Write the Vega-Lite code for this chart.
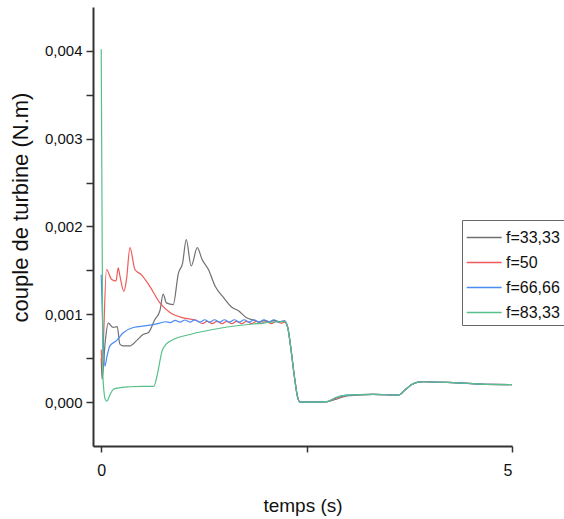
{
  "$schema": "https://vega.github.io/schema/vega-lite/v6.json",
  "autosize": "none",
  "width": 419,
  "height": 439,
  "padding": {"left": 93, "top": 7, "right": 52, "bottom": 73},
  "background": "white",
  "config": {"view": {"stroke": null}, "font": "Arial"},
  "data": {"values": [
    {"t":0,"v":0.0005,"s":"f=33,33"},{"t":0.01,"v":0.00026,"s":"f=33,33"},{"t":0.05,"v":0.0007,"s":"f=33,33"},{"t":0.085,"v":0.0009,"s":"f=33,33"},{"t":0.146,"v":0.00085,"s":"f=33,33"},{"t":0.195,"v":0.00086,"s":"f=33,33"},{"t":0.227,"v":0.00066,"s":"f=33,33"},{"t":0.268,"v":0.00064,"s":"f=33,33"},{"t":0.35,"v":0.00064,"s":"f=33,33"},{"t":0.43,"v":0.0007,"s":"f=33,33"},{"t":0.51,"v":0.00077,"s":"f=33,33"},{"t":0.572,"v":0.00079,"s":"f=33,33"},{"t":0.653,"v":0.00094,"s":"f=33,33"},{"t":0.714,"v":0.00104,"s":"f=33,33"},{"t":0.754,"v":0.00123,"s":"f=33,33"},{"t":0.794,"v":0.00113,"s":"f=33,33"},{"t":0.876,"v":0.00111,"s":"f=33,33"},{"t":0.94,"v":0.00147,"s":"f=33,33"},{"t":0.99,"v":0.00158,"s":"f=33,33"},{"t":1.035,"v":0.00185,"s":"f=33,33"},{"t":1.095,"v":0.00155,"s":"f=33,33"},{"t":1.17,"v":0.00176,"s":"f=33,33"},{"t":1.225,"v":0.00163,"s":"f=33,33"},{"t":1.305,"v":0.00151,"s":"f=33,33"},{"t":1.387,"v":0.00132,"s":"f=33,33"},{"t":1.49,"v":0.00119,"s":"f=33,33"},{"t":1.59,"v":0.00108,"s":"f=33,33"},{"t":1.67,"v":0.00104,"s":"f=33,33"},{"t":1.77,"v":0.00096,"s":"f=33,33"},{"t":1.87,"v":0.00093,"s":"f=33,33"},{"t":1.93,"v":0.00091,"s":"f=33,33"},{"t":1.99,"v":0.00093,"s":"f=33,33"},{"t":2.05,"v":0.000915,"s":"f=33,33"},{"t":2.11,"v":0.00093,"s":"f=33,33"},{"t":2.17,"v":0.000915,"s":"f=33,33"},{"t":2.23,"v":0.000925,"s":"f=33,33"},{"t":2.27,"v":0.00085,"s":"f=33,33"},{"t":2.31,"v":0.0006,"s":"f=33,33"},{"t":2.35,"v":0.0003,"s":"f=33,33"},{"t":2.39,"v":0.00006,"s":"f=33,33"},{"t":2.42,"v":0.0,"s":"f=33,33"},{"t":2.6,"v":0.0,"s":"f=33,33"},{"t":2.75,"v":0.000005,"s":"f=33,33"},{"t":2.85,"v":0.00003,"s":"f=33,33"},{"t":2.99,"v":0.00007,"s":"f=33,33"},{"t":3.31,"v":0.000088,"s":"f=33,33"},{"t":3.62,"v":0.00008,"s":"f=33,33"},{"t":3.7,"v":0.00014,"s":"f=33,33"},{"t":3.78,"v":0.0002,"s":"f=33,33"},{"t":3.86,"v":0.000228,"s":"f=33,33"},{"t":3.92,"v":0.000232,"s":"f=33,33"},{"t":4.21,"v":0.000224,"s":"f=33,33"},{"t":4.61,"v":0.000205,"s":"f=33,33"},{"t":5.0,"v":0.0002,"s":"f=33,33"},

    {"t":0,"v":0.0006,"s":"f=50"},{"t":0.01,"v":0.00042,"s":"f=50"},{"t":0.064,"v":0.00151,"s":"f=50"},{"t":0.125,"v":0.0014,"s":"f=50"},{"t":0.18,"v":0.00138,"s":"f=50"},{"t":0.207,"v":0.00153,"s":"f=50"},{"t":0.227,"v":0.00144,"s":"f=50"},{"t":0.276,"v":0.00126,"s":"f=50"},{"t":0.308,"v":0.0014,"s":"f=50"},{"t":0.35,"v":0.00176,"s":"f=50"},{"t":0.41,"v":0.00151,"s":"f=50"},{"t":0.49,"v":0.00145,"s":"f=50"},{"t":0.59,"v":0.00132,"s":"f=50"},{"t":0.714,"v":0.00113,"s":"f=50"},{"t":0.836,"v":0.00102,"s":"f=50"},{"t":0.998,"v":0.00096,"s":"f=50"},{"t":1.16,"v":0.00093,"s":"f=50"},{"t":1.23,"v":0.000895,"s":"f=50"},{"t":1.29,"v":0.00092,"s":"f=50"},{"t":1.35,"v":0.000893,"s":"f=50"},{"t":1.41,"v":0.00092,"s":"f=50"},{"t":1.47,"v":0.000893,"s":"f=50"},{"t":1.53,"v":0.00092,"s":"f=50"},{"t":1.59,"v":0.000893,"s":"f=50"},{"t":1.65,"v":0.00092,"s":"f=50"},{"t":1.71,"v":0.000893,"s":"f=50"},{"t":1.77,"v":0.00092,"s":"f=50"},{"t":1.83,"v":0.000893,"s":"f=50"},{"t":1.89,"v":0.00092,"s":"f=50"},{"t":1.95,"v":0.000893,"s":"f=50"},{"t":2.01,"v":0.00092,"s":"f=50"},{"t":2.07,"v":0.000893,"s":"f=50"},{"t":2.13,"v":0.00092,"s":"f=50"},{"t":2.19,"v":0.000898,"s":"f=50"},{"t":2.23,"v":0.00091,"s":"f=50"},{"t":2.27,"v":0.00085,"s":"f=50"},{"t":2.31,"v":0.0006,"s":"f=50"},{"t":2.35,"v":0.0003,"s":"f=50"},{"t":2.39,"v":0.00006,"s":"f=50"},{"t":2.42,"v":0.0,"s":"f=50"},{"t":2.6,"v":0.0,"s":"f=50"},{"t":2.75,"v":0.000005,"s":"f=50"},{"t":2.85,"v":0.00004,"s":"f=50"},{"t":2.99,"v":0.000075,"s":"f=50"},{"t":3.31,"v":0.000088,"s":"f=50"},{"t":3.62,"v":0.00008,"s":"f=50"},{"t":3.7,"v":0.00014,"s":"f=50"},{"t":3.78,"v":0.0002,"s":"f=50"},{"t":3.86,"v":0.000228,"s":"f=50"},{"t":3.92,"v":0.000232,"s":"f=50"},{"t":4.21,"v":0.000224,"s":"f=50"},{"t":4.61,"v":0.000205,"s":"f=50"},{"t":5.0,"v":0.0002,"s":"f=50"},

    {"t":0,"v":0.00145,"s":"f=66,66"},{"t":0.02,"v":0.0008,"s":"f=66,66"},{"t":0.045,"v":0.00041,"s":"f=66,66"},{"t":0.07,"v":0.00052,"s":"f=66,66"},{"t":0.106,"v":0.00064,"s":"f=66,66"},{"t":0.186,"v":0.0007,"s":"f=66,66"},{"t":0.268,"v":0.00079,"s":"f=66,66"},{"t":0.39,"v":0.00085,"s":"f=66,66"},{"t":0.55,"v":0.00087,"s":"f=66,66"},{"t":0.714,"v":0.0009,"s":"f=66,66"},{"t":0.78,"v":0.000915,"s":"f=66,66"},{"t":0.84,"v":0.000905,"s":"f=66,66"},{"t":0.9,"v":0.00093,"s":"f=66,66"},{"t":0.96,"v":0.00091,"s":"f=66,66"},{"t":1.02,"v":0.000935,"s":"f=66,66"},{"t":1.08,"v":0.000912,"s":"f=66,66"},{"t":1.14,"v":0.000937,"s":"f=66,66"},{"t":1.2,"v":0.000912,"s":"f=66,66"},{"t":1.26,"v":0.000938,"s":"f=66,66"},{"t":1.32,"v":0.000912,"s":"f=66,66"},{"t":1.38,"v":0.000938,"s":"f=66,66"},{"t":1.44,"v":0.000912,"s":"f=66,66"},{"t":1.5,"v":0.000938,"s":"f=66,66"},{"t":1.56,"v":0.000912,"s":"f=66,66"},{"t":1.62,"v":0.000938,"s":"f=66,66"},{"t":1.68,"v":0.000912,"s":"f=66,66"},{"t":1.74,"v":0.000938,"s":"f=66,66"},{"t":1.8,"v":0.000912,"s":"f=66,66"},{"t":1.86,"v":0.000938,"s":"f=66,66"},{"t":1.92,"v":0.000912,"s":"f=66,66"},{"t":1.98,"v":0.000938,"s":"f=66,66"},{"t":2.04,"v":0.000912,"s":"f=66,66"},{"t":2.1,"v":0.000938,"s":"f=66,66"},{"t":2.16,"v":0.000912,"s":"f=66,66"},{"t":2.23,"v":0.000925,"s":"f=66,66"},{"t":2.27,"v":0.00085,"s":"f=66,66"},{"t":2.31,"v":0.0006,"s":"f=66,66"},{"t":2.35,"v":0.0003,"s":"f=66,66"},{"t":2.39,"v":0.00006,"s":"f=66,66"},{"t":2.42,"v":0.0,"s":"f=66,66"},{"t":2.6,"v":0.0,"s":"f=66,66"},{"t":2.75,"v":0.000005,"s":"f=66,66"},{"t":2.85,"v":0.00005,"s":"f=66,66"},{"t":2.99,"v":0.00008,"s":"f=66,66"},{"t":3.31,"v":0.000088,"s":"f=66,66"},{"t":3.62,"v":0.00008,"s":"f=66,66"},{"t":3.7,"v":0.00014,"s":"f=66,66"},{"t":3.78,"v":0.0002,"s":"f=66,66"},{"t":3.86,"v":0.000228,"s":"f=66,66"},{"t":3.92,"v":0.000232,"s":"f=66,66"},{"t":4.21,"v":0.000224,"s":"f=66,66"},{"t":4.61,"v":0.000205,"s":"f=66,66"},{"t":5.0,"v":0.0002,"s":"f=66,66"},

    {"t":0,"v":0.00402,"s":"f=83,33"},{"t":0.02,"v":0.0003,"s":"f=83,33"},{"t":0.05,"v":0.00003,"s":"f=83,33"},{"t":0.07,"v":0.00001,"s":"f=83,33"},{"t":0.1,"v":0.00007,"s":"f=83,33"},{"t":0.15,"v":0.000145,"s":"f=83,33"},{"t":0.2,"v":0.00016,"s":"f=83,33"},{"t":0.35,"v":0.000175,"s":"f=83,33"},{"t":0.5,"v":0.00018,"s":"f=83,33"},{"t":0.64,"v":0.00018,"s":"f=83,33"},{"t":0.68,"v":0.0003,"s":"f=83,33"},{"t":0.74,"v":0.00058,"s":"f=83,33"},{"t":0.79,"v":0.00066,"s":"f=83,33"},{"t":0.85,"v":0.0007,"s":"f=83,33"},{"t":1.08,"v":0.00077,"s":"f=83,33"},{"t":1.48,"v":0.000847,"s":"f=83,33"},{"t":1.89,"v":0.000893,"s":"f=83,33"},{"t":2.23,"v":0.000918,"s":"f=83,33"},{"t":2.27,"v":0.00085,"s":"f=83,33"},{"t":2.31,"v":0.0006,"s":"f=83,33"},{"t":2.35,"v":0.0003,"s":"f=83,33"},{"t":2.39,"v":0.00006,"s":"f=83,33"},{"t":2.42,"v":0.0,"s":"f=83,33"},{"t":2.6,"v":0.0,"s":"f=83,33"},{"t":2.75,"v":0.000005,"s":"f=83,33"},{"t":2.85,"v":0.00005,"s":"f=83,33"},{"t":2.99,"v":0.00008,"s":"f=83,33"},{"t":3.31,"v":0.000088,"s":"f=83,33"},{"t":3.62,"v":0.00008,"s":"f=83,33"},{"t":3.7,"v":0.00014,"s":"f=83,33"},{"t":3.78,"v":0.0002,"s":"f=83,33"},{"t":3.86,"v":0.000228,"s":"f=83,33"},{"t":3.92,"v":0.000232,"s":"f=83,33"},{"t":4.21,"v":0.000224,"s":"f=83,33"},{"t":4.61,"v":0.000205,"s":"f=83,33"},{"t":5.0,"v":0.0002,"s":"f=83,33"}
  ]},
  "mark": {"type": "line", "interpolate": "monotone", "strokeWidth": 1.2, "clip": true},
  "encoding": {
    "x": {
      "field": "t", "type": "quantitative",
      "scale": {"domain": [-0.1, 5], "nice": false, "zero": false},
      "axis": {
        "title": "temps (s)", "grid": false,
        "values": [0, 2.5, 5],
        "labelExpr": "datum.value == 2.5 ? '' : datum.label",
        "domainColor": "#333333", "domainWidth": 2,
        "tickColor": "#333333", "tickWidth": 1.5, "tickSize": 6,
        "labelFont": "Arial", "labelFontSize": 16, "labelColor": "#111111", "labelPadding": 10,
        "titleFont": "Arial", "titleFontSize": 19, "titleFontWeight": "normal", "titleColor": "#111111", "titlePadding": 18
      }
    },
    "y": {
      "field": "v", "type": "quantitative",
      "scale": {"domain": [-0.0005, 0.0045], "nice": false, "zero": false},
      "axis": {
        "title": "couple de turbine (N.m)", "grid": false,
        "values": [0, 0.0005, 0.001, 0.0015, 0.002, 0.0025, 0.003, 0.0035, 0.004],
        "labelExpr": "round(datum.value * 10000) % 10 == 0 ? replace(format(datum.value, '.3f'), '.', ',') : ''",
        "domainColor": "#333333", "domainWidth": 2,
        "tickColor": "#333333", "tickWidth": 1.5, "tickSize": 7,
        "labelFont": "Arial", "labelFontSize": 15, "labelColor": "#111111", "labelPadding": 4,
        "titleFont": "Arial", "titleFontSize": 22, "titleFontWeight": "normal", "titleColor": "#111111", "titlePadding": 12,
        "titleY": 200
      }
    },
    "color": {
      "field": "s", "type": "nominal",
      "scale": {"domain": ["f=33,33", "f=50", "f=66,66", "f=83,33"], "range": ["#707070", "#f05a5a", "#4a8cf2", "#55c08a"]},
      "legend": {
        "title": null, "orient": "none", "legendX": 369, "legendY": 213,
        "symbolType": "M-1,0H1.74", "symbolSize": 650,
        "labelFont": "Arial", "labelFontSize": 16, "labelColor": "#111111", "labelOffset": 13,
        "strokeColor": "#666666", "padding": 4, "rowPadding": 3,
        "encode": {"symbols": {"update": {"stroke": {"scale": "color", "field": "value"}, "fill": {"value": "transparent"}, "strokeWidth": {"value": 1.5}, "opacity": {"value": 1}}}}
      }
    }
  }
}
